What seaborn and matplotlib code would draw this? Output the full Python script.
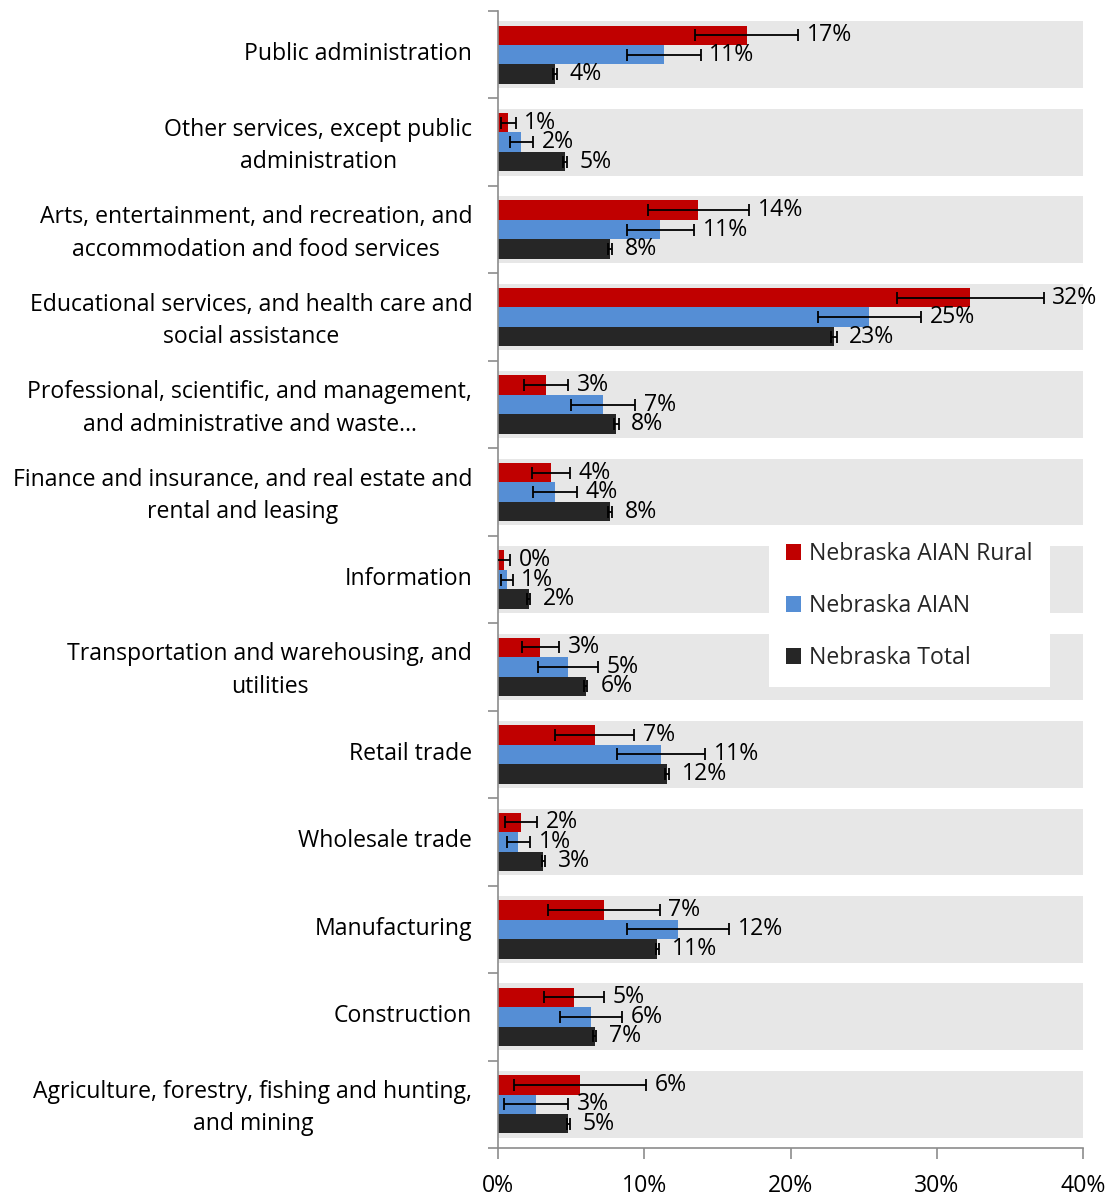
import numpy as np
import pandas as pd
import matplotlib
matplotlib.use("Agg")
import matplotlib.pyplot as plt
import matplotlib.transforms as mtransforms
import seaborn as sns
from matplotlib.ticker import FuncFormatter, FixedLocator

categories = [
    "Public administration",
    "Other services, except public\nadministration",
    "Arts, entertainment, and recreation, and\naccommodation and food services",
    "Educational services, and health care and\nsocial assistance",
    "Professional, scientific, and management,\nand administrative and waste…",
    "Finance and insurance, and real estate and\nrental and leasing",
    "Information",
    "Transportation and warehousing, and\nutilities",
    "Retail trade",
    "Wholesale trade",
    "Manufacturing",
    "Construction",
    "Agriculture, forestry, fishing and hunting,\nand mining",
]
series = ["Nebraska AIAN Rural", "Nebraska AIAN", "Nebraska Total"]

rural = [17.0, 0.7, 13.7, 32.3, 3.3, 3.6, 0.4, 2.9, 6.6, 1.6, 7.25, 5.2, 5.6]
rural_err = [3.5, 0.5, 3.45, 5.0, 1.5, 1.3, 0.45, 1.25, 2.7, 1.1, 3.8, 2.05, 4.5]
aian = [11.35, 1.6, 11.1, 25.4, 7.2, 3.9, 0.6, 4.8, 11.15, 1.4, 12.3, 6.35, 2.6]
aian_err = [2.5, 0.8, 2.3, 3.5, 2.2, 1.5, 0.4, 2.05, 3.0, 0.8, 3.5, 2.1, 2.2]
total = [3.9, 4.6, 7.66, 23.0, 8.1, 7.66, 2.1, 6.0, 11.55, 3.1, 10.9, 6.6, 4.8]
total_err = [0.15, 0.15, 0.15, 0.2, 0.15, 0.15, 0.1, 0.1, 0.15, 0.1, 0.1, 0.1, 0.1]

x_ticks = [0, 10, 20, 30, 40]

colors = ["#C00000", "#558ED5", "#262626"]
band_color = "#E7E7E7"
spine_color = "#8C8C8C"

sns.set_theme(style="white")
plt.rcParams["font.family"] = ["Open Sans", "DejaVu Sans"]
FS = 16.6

df = pd.DataFrame({
    "category": categories * 3,
    "series": sum([[s] * len(categories) for s in series], []),
    "value": rural + aian + total,
})

fig = plt.figure(figsize=(11.10, 11.97), dpi=100)
ax = fig.add_axes([498 / 1110, 1 - 1148 / 1197, 585 / 1110, 1137 / 1197])

for i in range(len(categories)):
    ax.axhspan(i - 0.381, i + 0.381, xmin=0, xmax=1, color=band_color, lw=0, zorder=0)

sns.barplot(data=df, y="category", x="value", hue="series", orient="h",
            palette=colors, width=0.668, saturation=1, errorbar=None,
            linewidth=0, ax=ax, zorder=2)

errs = [rural_err, aian_err, total_err]
vals = [rural, aian, total]
for cont, e, v in zip(ax.containers, errs, vals):
    ys = [r.get_y() + r.get_height() / 2 for r in cont.patches]
    ax.errorbar(v, ys, xerr=e, fmt="none", ecolor="black", elinewidth=1.3,
                capsize=4, capthick=1.3, zorder=3)
    for val, err, y in zip(v, e, ys):
        xl = max(val + 1.0, val + err + 0.6)
        ax.text(xl, y, f"{round(val)}%", va="center", ha="left",
                fontsize=FS, color="black", clip_on=False, zorder=4)

ax.set_xlim(0, 40)
ax.set_ylim(len(categories) - 0.5, -0.5)
ax.xaxis.set_major_locator(FixedLocator(x_ticks))
ax.xaxis.set_major_formatter(FuncFormatter(lambda x, p: f"{x:.0f}%"))
ax.set_xlabel("")
ax.set_ylabel("")

ax.set_yticks(range(len(categories)))
ax.set_yticklabels(categories, fontsize=FS, multialignment="center", linespacing=1.47)
ax.set_yticks(np.arange(-0.5, len(categories)), minor=True)
ax.tick_params(axis="y", which="major", length=0, pad=18.5, labelsize=FS, colors="black")
ax.tick_params(axis="y", which="minor", length=7, width=1.2, color=spine_color, direction="out", left=True)
ax.tick_params(axis="x", which="major", length=8, width=1.2, color=spine_color, direction="out",
               bottom=True, pad=10.5, labelsize=FS, labelcolor="black")

shift = mtransforms.ScaledTranslation(0, 0.035, fig.dpi_scale_trans)
for lab in ax.get_yticklabels():
    lab.set_transform(lab.get_transform() + shift)

for s in ["top", "right"]:
    ax.spines[s].set_visible(False)
for s in ["left", "bottom"]:
    ax.spines[s].set_visible(True)
    ax.spines[s].set_color(spine_color)
    ax.spines[s].set_linewidth(1.2)

handles, labels = ax.get_legend_handles_labels()
leg = ax.legend(handles, labels, loc="upper left", bbox_to_anchor=(0.463, 0.548),
                frameon=True, fancybox=False, framealpha=1, facecolor="white",
                edgecolor="white", fontsize=FS, handlelength=0.65, handleheight=0.65,
                handletextpad=0.35, labelspacing=1.21, borderpad=0.75, borderaxespad=0)
leg.get_frame().set_linewidth(0)
leg.set_zorder(5)

fig.savefig("out.png", dpi=100)
